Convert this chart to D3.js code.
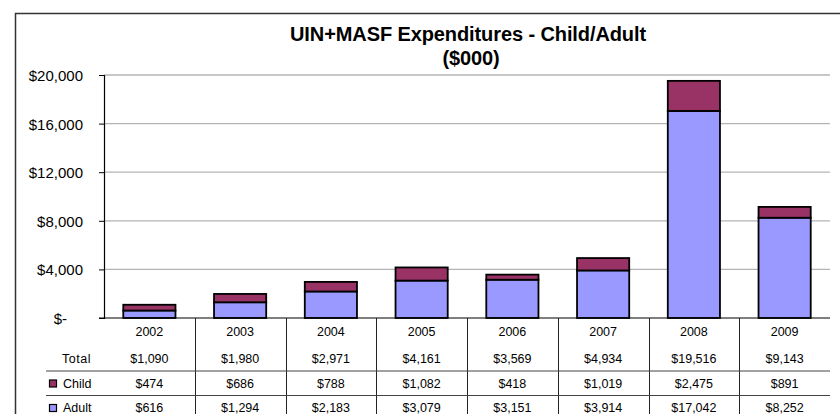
<!DOCTYPE html>
<html>
<head>
<meta charset="utf-8">
<script src="https://cdn.jsdelivr.net/npm/d3@7"></script>
<style>
  body { margin: 0; background: #fff; }
  svg { font-family: "Liberation Sans", Arial, sans-serif; }
</style>
</head>
<body>
<svg id="chart" width="840" height="414"></svg>
<script>
var years = ['2002', '2003', '2004', '2005', '2006', '2007', '2008', '2009'];
var child = [474, 686, 788, 1082, 418, 1019, 2475, 891];
var adult = [616, 1294, 2183, 3079, 3151, 3914, 17042, 8252];
var total = [1090, 1980, 2971, 4161, 3569, 4934, 19516, 9143];
var yTicks = [0, 4000, 8000, 12000, 16000, 20000];

var svg = d3.select('#chart');
const plotLeft = 104, plotRight = 830, plotTop = 75, plotBottom = 318;

// outer chart border (only top and left are in frame)
svg.append('path')
    .attr('d', 'M15.5,414 L15.5,13.5 L840,13.5')
    .attr('fill', 'none')
    .attr('stroke', '#333')
    .attr('stroke-width', 1.5);

// title
var title = svg.append('text')
    .attr('text-anchor', 'middle')
    .attr('font-weight', 'bold')
    .attr('font-size', 20)
    .attr('letter-spacing', -0.1);
title.append('tspan').attr('x', 468).attr('y', 41).text('UIN+MASF Expenditures - Child/Adult');
title.append('tspan').attr('x', 471).attr('y', 65).text('($000)');

var x = d3.scaleBand()
    .domain(years)
    .range([plotLeft, plotRight])
    .padding(0);
var barW = x.bandwidth() * 0.575;

var y = d3.scaleLinear()
    .domain([0, 20000])
    .range([plotBottom, plotTop]);

// gridlines
svg.append('g')
    .selectAll('line')
    .data(yTicks.filter(d => d > 0))
    .enter().append('line')
        .attr('x1', plotLeft).attr('x2', plotRight)
        .attr('y1', d => y(d)).attr('y2', d => y(d))
        .attr('stroke', '#b4b4b4')
        .attr('stroke-width', 1.3);

// y axis
var yAxis = svg.append('g')
    .attr('transform', `translate(${plotLeft}, 0)`)
    .call(d3.axisLeft(y).tickValues(yTicks).tickSize(5).tickPadding(16)
        .tickFormat(d => d === 0 ? '$-' : '$' + d3.format(',')(d)));
yAxis.select('.domain').attr('stroke', '#000').attr('stroke-width', 1.2);
yAxis.selectAll('.tick line').attr('stroke', '#000');
yAxis.selectAll('.tick text')
    .attr('font-size', 15)
    .attr('font-family', '"Liberation Sans", Arial, sans-serif')
    .attr('fill', '#000')
    .attr('dy', '0.36em')
    .attr('dx', d => d === 0 ? -16 : 0);

// stacked bars
var stackData = years.map((yr, i) => ({year: yr, Adult: adult[i], Child: child[i]}));
var series = d3.stack().keys(['Adult', 'Child'])(stackData);
var colors = {Adult: '#9999ff', Child: '#993366'};

svg.append('g')
    .selectAll('g')
    .data(series)
    .enter().append('g')
        .attr('fill', d => colors[d.key])
    .selectAll('rect')
    .data(d => d)
    .enter().append('rect')
        .attr('x', d => x(d.data.year) + (x.bandwidth() - barW) / 2)
        .attr('y', d => y(d[1]))
        .attr('width', barW)
        .attr('height', d => y(d[0]) - y(d[1]))
        .attr('stroke', '#000')
        .attr('stroke-width', 1.8);

// zero line
svg.append('line')
    .attr('x1', plotLeft - 5).attr('x2', plotRight)
    .attr('y1', plotBottom).attr('y2', plotBottom)
    .attr('stroke', '#000')
    .attr('stroke-width', 1.2);

// data table
var table = svg.append('g');
table.selectAll('.vline')
    .data(years.slice(1))
    .enter().append('line')
        .attr('x1', d => Math.round(x(d)) + 0.5).attr('x2', d => Math.round(x(d)) + 0.5)
        .attr('y1', plotBottom).attr('y2', 414)
        .attr('stroke', '#222');
table.selectAll('.hline')
    .data([371, 395.5])
    .enter().append('line')
        .attr('x1', 46).attr('x2', plotRight)
        .attr('y1', d => d).attr('y2', d => d)
        .attr('stroke', '#444');

var fmt = d => '$' + d3.format(',')(d);
var rows = [
    {label: null, vals: years, y: 336},
    {label: 'Total', vals: total.map(fmt), y: 363},
    {label: 'Child', vals: child.map(fmt), y: 387.5, color: colors.Child},
    {label: 'Adult', vals: adult.map(fmt), y: 412}
];
rows[3].color = colors.Adult;
rows.forEach(function(r) {
    table.append('g').selectAll('text')
        .data(r.vals)
        .enter().append('text')
            .attr('x', (d, i) => x(years[i]) + x.bandwidth() / 2)
            .attr('y', r.y)
            .attr('text-anchor', 'middle')
            .attr('font-size', 12.5)
            .text(d => d);
    if (r.label) {
        table.append('text')
            .attr('x', r.color ? 63 : 62)
            .attr('y', r.y)
            .attr('font-size', 12.5)
            .attr('letter-spacing', r.label === 'Total' ? 0.5 : 0)
            .text(r.label);
    }
    if (r.color) {
        table.append('rect')
            .attr('x', 49.5).attr('y', r.y - 7.5)
            .attr('width', 7).attr('height', 7)
            .attr('fill', r.color)
            .attr('stroke', '#000')
            .attr('stroke-width', 1.2);
    }
});
</script>
</body>
</html>
